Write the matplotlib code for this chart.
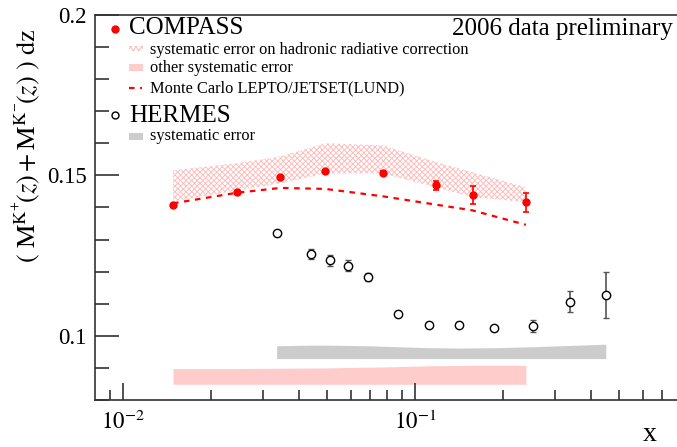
import matplotlib
matplotlib.use("Agg")
import matplotlib.pyplot as plt
from matplotlib.patches import Rectangle
from matplotlib.ticker import FixedLocator, NullFormatter

plt.rcParams['font.family'] = ['Liberation Serif', 'DejaVu Serif']
plt.rcParams['mathtext.fontset'] = 'stix'
plt.rcParams['hatch.linewidth'] = 0.7

# COMPASS 2006 (preliminary)
compass_x = [0.0148, 0.0245, 0.0345, 0.0491, 0.0772, 0.1175, 0.157, 0.239]
compass_y = [0.1409, 0.1447, 0.1495, 0.1513, 0.1509, 0.1469, 0.1438, 0.1416]
compass_err = [0.0003, 0.0003, 0.0004, 0.0004, 0.0006, 0.0015, 0.0028, 0.0030]
hadr_lo = [0.1419, 0.1453, 0.1475, 0.1506, 0.1506, 0.1463, 0.1432, 0.1417]
hadr_hi = [0.1516, 0.1538, 0.1559, 0.1600, 0.1594, 0.1542, 0.1510, 0.1463]
other_lo = [0.0849, 0.0849, 0.0849, 0.0849, 0.0849, 0.0849, 0.0849, 0.0849]
other_hi = [0.0898, 0.0898, 0.0899, 0.0900, 0.0903, 0.0907, 0.0908, 0.0908]
mc_y = [0.1413, 0.1446, 0.1461, 0.1458, 0.1435, 0.1409, 0.1391, 0.1346]

# HERMES
hermes_x = [0.0335, 0.0439, 0.0511, 0.0587, 0.0687, 0.0871, 0.1111, 0.1416,
            0.1862, 0.252, 0.338, 0.449]
hermes_y = [0.1320, 0.1255, 0.1235, 0.1219, 0.1183, 0.1069, 0.1034, 0.1034,
            0.1023, 0.1030, 0.1107, 0.1127]
hermes_err = [0.0008, 0.0016, 0.0016, 0.0018, 0.0012, 0.0008, 0.0008, 0.0008,
              0.0009, 0.0019, 0.0033, 0.0072]
hermes_sys_lo = [0.0929] * 12
hermes_sys_hi = [0.0969, 0.0971, 0.0971, 0.0970, 0.0969, 0.0966, 0.0963, 0.0962,
                 0.0963, 0.0966, 0.0970, 0.0974]

red = '#ff0000'
pink = '#ffcccc'
hatchpink = '#ffbdbd'
grey = '#cccccc'

fig = plt.figure(figsize=(6.77, 4.47), dpi=100)
ax = fig.add_axes([95/677, 47/447, 582/677, 385/447])

# bands
ax.fill_between(compass_x, hadr_lo, hadr_hi, facecolor='none', edgecolor=hatchpink,
                hatch='xxxxxx', linewidth=0)
ax.fill_between(compass_x, other_lo, other_hi, color=pink, linewidth=0)
ax.fill_between(hermes_x, hermes_sys_lo, hermes_sys_hi, color=grey, linewidth=0)

# Monte Carlo
ax.plot(compass_x, mc_y, color=red, ls=(0, (2.5, 2.5)), lw=1.6)

# data points
ax.errorbar(compass_x, compass_y, yerr=compass_err, fmt='o', color=red, ms=5,
            elinewidth=1.2, capsize=2, capthick=1.2, zorder=5)
ax.errorbar(hermes_x, hermes_y, yerr=hermes_err, fmt='o', mfc='white', mec='black',
            mew=1.0, ms=6, ecolor='#555555', elinewidth=1.2, capsize=2,
            capthick=1.2, zorder=5)

ax.set_xscale('log')
ax.set_xlim(0.008, 0.787)
ax.set_ylim(0.08, 0.2)

ax.set_yticks([0.1, 0.15, 0.2])
ax.set_yticklabels(['0.1', '0.15', '0.2'])
ax.yaxis.set_minor_locator(FixedLocator([0.08 + 0.01 * i for i in range(13)]))
ax.set_xticks([0.01, 0.1])
ax.set_xticklabels(['$10^{-2}$', '$10^{-1}$'])
ax.xaxis.set_minor_locator(FixedLocator([0.009, 0.02, 0.03, 0.04, 0.05, 0.06, 0.07,
                                         0.08, 0.09, 0.2, 0.3, 0.4, 0.5, 0.6, 0.7]))
ax.xaxis.set_minor_formatter(NullFormatter())

ax.tick_params(axis='both', which='major', direction='in', labelsize=16.5,
               width=1.2, color='#333333')
ax.tick_params(axis='y', which='major', length=17, pad=6)
ax.tick_params(axis='y', which='minor', direction='in', length=10, width=1.2, color='#333333')
ax.tick_params(axis='x', which='major', length=12, pad=8)
ax.tick_params(axis='x', which='minor', direction='in', length=7, width=1.2, color='#333333')

for s in ['left', 'bottom', 'top']:
    ax.spines[s].set_linewidth(1.2)
    ax.spines[s].set_color('#333333')
ax.spines['right'].set_visible(False)

ax.set_ylabel(r'$(\ \mathrm{M}^{\mathrm{K}^{+}}\!(z) + \mathrm{M}^{\mathrm{K}^{-}}\!(z)\ )\ \mathrm{dz}$',
              fontsize=19)
ax.yaxis.set_label_coords(-0.09, 0.66)
fig.text(650/677, 0.0, 'x', fontsize=20, ha='center', va='bottom')

# legend drawn by hand
T = ax.transAxes
def fx(px):
    return (px - 95) / 582
def fy(py):
    return (400 - py) / 385

ax.plot([fx(115)], [fy(28.5)], 'o', color=red, ms=5, transform=T, clip_on=False)
ax.text(fx(129), fy(34.5), 'COMPASS', fontsize=18, va='baseline', transform=T)
ax.add_patch(Rectangle((fx(129), fy(51)), fx(143) - fx(129), fy(46) - fy(51),
                       facecolor='none', edgecolor=hatchpink, hatch='xxxxxx', lw=0, transform=T))
ax.text(fx(150), fy(53.5), 'systematic error on hadronic radiative correction',
        fontsize=11.8, va='baseline', transform=T)
ax.add_patch(Rectangle((fx(129), fy(71)), fx(143) - fx(129), fy(64) - fy(71),
                       facecolor=pink, lw=0, transform=T))
ax.text(fx(150), fy(72.5), 'other systematic error', fontsize=11.8, va='baseline', transform=T)
ax.plot([fx(129), fx(142)], [fy(88), fy(88)], color=red, ls=(0, (2.5, 2.5)), lw=1.6, transform=T)
ax.text(fx(150), fy(92), 'Monte Carlo LEPTO/JETSET(LUND)', fontsize=11.8,
        va='baseline', transform=T)

ax.plot([fx(115)], [fy(115)], 'o', mfc='white', mec='black', mew=1.0, ms=5,
        transform=T, clip_on=False)
ax.text(fx(129), fy(122), 'HERMES', fontsize=18, va='baseline', transform=T)
ax.add_patch(Rectangle((fx(129), fy(140)), fx(143) - fx(129), fy(133) - fy(140),
                       facecolor=grey, lw=0, transform=T))
ax.text(fx(150), fy(140.5), 'systematic error', fontsize=11.8, va='baseline', transform=T)

ax.text(fx(673), fy(35), '2006 data preliminary', fontsize=18, ha='right',
        va='baseline', transform=T)

fig.savefig('out.png', dpi=100)
